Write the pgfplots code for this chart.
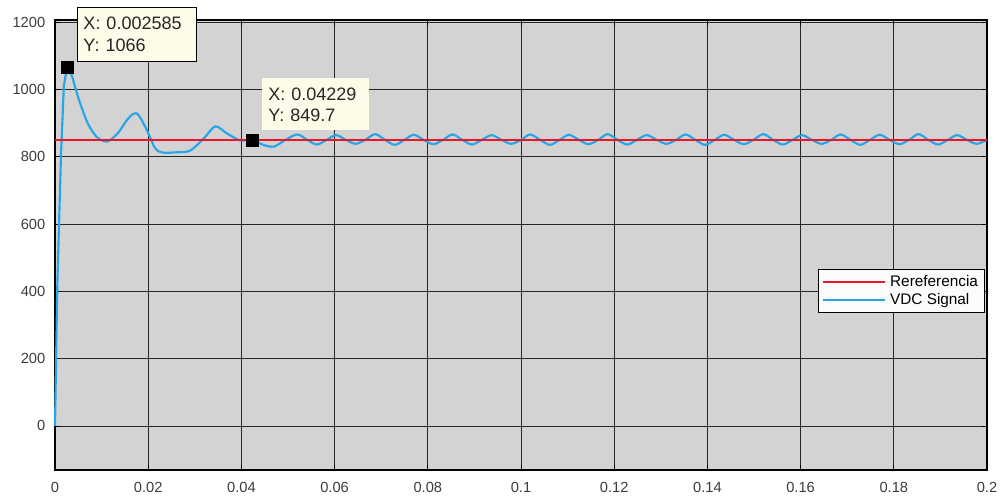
\documentclass[border=0pt]{standalone}
\usepackage{fontspec}
\setmainfont{Liberation Sans}
\usepackage{pgfplots}
\pgfplotsset{compat=1.18}
\definecolor{axbg}{RGB}{211,211,211}
\definecolor{sigblue}{RGB}{40,165,230}
\definecolor{refred}{RGB}{240,20,40}
\definecolor{tipbg}{RGB}{252,252,232}
\definecolor{ticktxt}{RGB}{60,60,60}
\begin{document}
\begin{tikzpicture}
\path[use as bounding box] (-41.25pt,-22.5pt) rectangle (712.5pt,352.5pt);
\begin{axis}[
  scale only axis,
  width=699pt, height=337.5pt,
  xmin=0, xmax=0.2, ymin=-131, ymax=1206,
  clip=false,
  axis background/.style={fill=axbg},
  axis line style={black, line width=0.8pt},
  grid=major,
  grid style={black!85, line width=0.6pt},
  tick align=inside,
  major tick length=4pt,
  tick style={black, line width=0.6pt},
  xtick={0,0.02,0.04,0.06,0.08,0.1,0.12,0.14,0.16,0.18,0.2},
  xticklabels={0,0.02,0.04,0.06,0.08,0.1,0.12,0.14,0.16,0.18,0.2},
  ytick={0,200,400,600,800,1000,1200},
  yticklabels={0,200,400,600,800,1000,1200},
  ticklabel style={font=\fontsize{11}{13}\selectfont, text=ticktxt},
  xticklabel style={yshift=-6pt},
  yticklabel style={xshift=-3.8pt},
  /pgf/number format/assume math mode=true,
  reverse legend,
  legend style={at={(0.998,0.447)}, anchor=north east, fill=white!92!axbg, draw=black, line width=0.8pt,
    font=\fontsize{11.5}{13}\selectfont, inner xsep=2pt, inner ysep=2.5pt, row sep=0pt,
    nodes={inner xsep=3pt}},
  legend cell align=left,
  legend image code/.code={\draw[#1, line width=1.5pt] (0cm,0cm) -- (1.65cm,0cm);},
]
% VDC signal: initial rise
\addplot[sigblue, line width=1.6pt, forget plot] coordinates {
(0,0) (0.0005,420) (0.0013,810) (0.0019,1010) (0.002585,1066)
};
% VDC signal: transient and ripple
\addplot[sigblue, line width=1.6pt, smooth] coordinates {
(0.002585,1066) (0.0035,1045) (0.005,975) (0.007,900) (0.009,858) (0.0112,845)
(0.0135,870) (0.0158,915) (0.0176,928) (0.0195,885) (0.0215,825) (0.0232,812)
(0.026,813) (0.029,818) (0.032,855) (0.0344,890) (0.037,868) (0.0398,848)
(0.04229,849.7) (0.0447,835) (0.047,830) (0.0495,850)
(0.0520,866) (0.0541,850) (0.0562,836) (0.0583,850)
(0.0603,864) (0.0624,850) (0.0645,838) (0.0666,850)
(0.0687,867) (0.0708,850) (0.0729,835) (0.0750,850)
(0.0770,865) (0.0791,850) (0.0812,837) (0.0833,850)
(0.0853,866) (0.0874,850) (0.0895,836) (0.0916,850)
(0.0937,864) (0.0958,850) (0.0979,838) (0.1000,850)
(0.1020,866) (0.1041,850) (0.1062,835) (0.1083,850)
(0.1103,865) (0.1124,850) (0.1145,837) (0.1166,850)
(0.1186,867) (0.1207,850) (0.1228,836) (0.1249,850)
(0.1270,864) (0.1291,850) (0.1312,838) (0.1333,850)
(0.1353,866) (0.1374,850) (0.1395,835) (0.1416,850)
(0.1436,865) (0.1457,850) (0.1478,837) (0.1499,850)
(0.1520,867) (0.1541,850) (0.1562,836) (0.1583,850)
(0.1603,864) (0.1624,850) (0.1645,838) (0.1666,850)
(0.1686,866) (0.1707,850) (0.1728,835) (0.1749,850)
(0.1770,865) (0.1791,850) (0.1812,837) (0.1833,850)
(0.1853,867) (0.1874,850) (0.1895,836) (0.1916,850)
(0.1936,864) (0.1957,850) (0.1978,838) (0.2000,850)
};
\addlegendentry{VDC Signal}
% Reference
\addplot[refred, line width=1.3pt] coordinates {(0,850) (0.2,850)};
\addlegendentry{Rereferencia}
% data tip markers
\addplot[only marks, mark=square*, mark size=4.5pt, mark options={fill=black, draw=black}, forget plot]
  coordinates {(0.002585,1066) (0.04229,849.7)};
% data tip boxes
\node[anchor=north west, draw=black, line width=0.75pt, fill=tipbg, align=left,
  text width=80pt, minimum height=40pt, inner xsep=4.5pt, inner ysep=2pt,
  font=\fontsize{13.5}{16}\selectfont, text=black!85]
  at (axis cs:0.00472,1244) {X: 0.002585\\Y: 1066};
\node[anchor=north west, fill=tipbg, align=left,
  text width=71pt, minimum height=39pt, inner xsep=4.5pt, inner ysep=2pt,
  font=\fontsize{13.5}{16}\selectfont, text=black!85]
  at (axis cs:0.04442,1033) {X: 0.04229\\Y: 849.7};
\end{axis}
\end{tikzpicture}
\end{document}
